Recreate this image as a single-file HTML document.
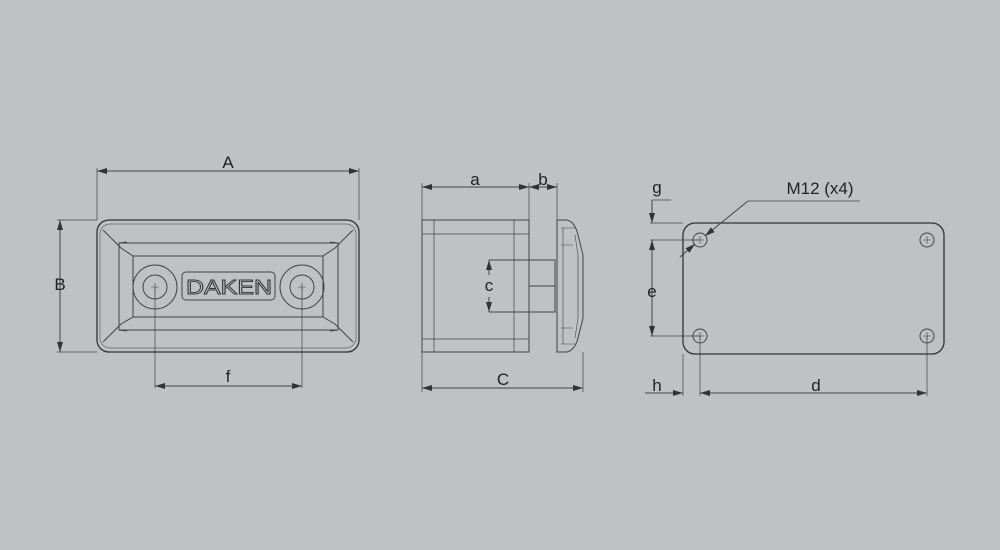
<!DOCTYPE html>
<html><head><style>html,body{margin:0;padding:0;background:#c0c1c3}svg{display:block}text{font-family:"Liberation Sans",sans-serif;font-size:17px;fill:#222}</style></head><body>
<svg width="1000" height="550" viewBox="0 0 1000 550" xmlns="http://www.w3.org/2000/svg">
<defs><marker id="ar" viewBox="0 0 10 6" refX="10" refY="3" markerWidth="10" markerHeight="6" orient="auto-start-reverse" markerUnits="userSpaceOnUse"><path d="M0,0L10,3L0,6z" fill="#333"/></marker></defs>
<g fill="none" stroke="#444" stroke-width="1">
<rect x="97" y="220" width="262" height="132" rx="12" stroke="#333" stroke-width="1.3"/>
<rect x="100" y="224" width="256" height="124" rx="10" stroke="#666" stroke-width="0.7"/>
<rect x="119" y="243" width="219" height="87"/>
<rect x="133" y="256" width="190" height="61"/>
<path d="M103,230L121,248L133,256M119,243L127,242M353,230L335,248L323,256M338,243L330,242M103,342L121,324L133,317M119,330L127,331M353,342L335,324L323,317M338,330L330,331"/>
<circle cx="155" cy="287" r="22"/><circle cx="155" cy="287" r="12"/>
<circle cx="302" cy="287" r="22"/><circle cx="302" cy="287" r="12"/>
<path d="M151,287h8M155,283v8M298,287h8M302,283v8" stroke-width="0.6"/>
<rect x="182" y="272" width="93" height="28" rx="4"/>
<path d="M97,168V220M359,168V220M57,220H97M57,352H97M155,287V388M302,287V388" stroke-width="0.7"/>
<line x1="97" y1="171" x2="359" y2="171" marker-start="url(#ar)" marker-end="url(#ar)"/>
<line x1="60" y1="220" x2="60" y2="352" marker-start="url(#ar)" marker-end="url(#ar)"/>
<line x1="155" y1="386" x2="302" y2="386" marker-start="url(#ar)" marker-end="url(#ar)"/>
<rect x="422" y="220" width="107" height="132"/>
<path d="M434,220V352M514,220V352M422,234H529M422,339H529" stroke-width="0.7"/>
<path d="M489,260H555V312H489M529,286H555M529,260V312"/>
<path d="M557,220H567Q575,222 578,235L583,255V318L578,338Q575,350 567,352H557Z"/>
<path d="M561,228H575M561,344H575M563,228V344M575,235L578,255V318L575,338M561,245H573M561,328H573" stroke-width="0.6"/>
<path d="M422,183V220M529,183V220M557,183V220M422,352V392M583,352V392" stroke-width="0.7"/>
<line x1="422" y1="187" x2="529" y2="187" marker-start="url(#ar)" marker-end="url(#ar)"/>
<line x1="529" y1="187" x2="557" y2="187" marker-start="url(#ar)" marker-end="url(#ar)"/>
<line x1="422" y1="388" x2="583" y2="388" marker-start="url(#ar)" marker-end="url(#ar)"/>
<line x1="489" y1="260" x2="489" y2="275" marker-start="url(#ar)"/>
<line x1="489" y1="297" x2="489" y2="312" marker-end="url(#ar)"/>
<rect x="683" y="223" width="261" height="131" rx="12" stroke="#333" stroke-width="1.3"/>
<circle cx="700" cy="240" r="7"/><circle cx="927" cy="240" r="7"/><circle cx="700" cy="336" r="7"/><circle cx="927" cy="336" r="7"/>
<path d="M696,240h8M700,236v8M923,240h8M927,236v8M696,336h8M700,332v8M923,336h8M927,332v8" stroke-width="0.6"/>
<path d="M652,200H671M650,223H683M650,240H700M650,336H700M683,354V396M700,336V396M927,336V396" stroke-width="0.7"/>
<line x1="652" y1="200" x2="652" y2="223" marker-end="url(#ar)"/>
<line x1="652" y1="240" x2="652" y2="336" marker-start="url(#ar)" marker-end="url(#ar)"/>
<line x1="645" y1="393" x2="683" y2="393" marker-end="url(#ar)"/>
<line x1="700" y1="393" x2="927" y2="393" marker-start="url(#ar)" marker-end="url(#ar)"/>
<line x1="860" y1="201" x2="748" y2="201" stroke-width="0.7"/>
<line x1="748" y1="201" x2="705" y2="236" marker-end="url(#ar)"/>
<line x1="680" y1="257" x2="695" y2="244" marker-end="url(#ar)"/>
</g>
<text x="186" y="294" textLength="86" lengthAdjust="spacingAndGlyphs" style="font-size:20px;fill:none;stroke:#333;stroke-width:0.9">DAKEN</text>
<text x="228" y="168" text-anchor="middle">A</text>
<text x="60" y="290" text-anchor="middle">B</text>
<text x="228" y="382" text-anchor="middle">f</text>
<text x="475" y="185" text-anchor="middle">a</text>
<text x="543" y="185" text-anchor="middle">b</text>
<text x="489" y="291" text-anchor="middle">c</text>
<text x="503" y="385" text-anchor="middle">C</text>
<text x="657" y="193" text-anchor="middle">g</text>
<text x="652" y="297" text-anchor="middle">e</text>
<text x="657" y="391" text-anchor="middle">h</text>
<text x="816" y="391" text-anchor="middle">d</text>
<text x="820" y="194" text-anchor="middle">M12 (x4)</text>
</svg>
</body></html>
